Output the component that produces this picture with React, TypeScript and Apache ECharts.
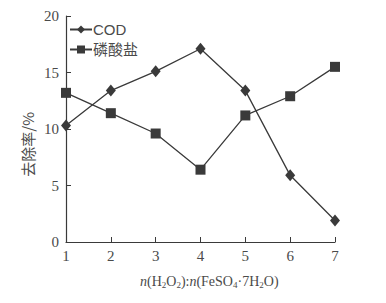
import React, { useEffect, useRef } from "react";
import * as echarts from "echarts";

const ratios = [1, 2, 3, 4, 5, 6, 7];
const codValues = [10.3, 13.4, 15.1, 17.1, 13.4, 5.9, 1.9];
const phosphateValues = [13.2, 11.4, 9.6, 6.4, 11.2, 12.9, 15.5];
const yTicks = [0, 5, 10, 15, 20];

const SERIF = "'Liberation Serif', 'Times New Roman', serif";
const CJK = "'Noto Sans CJK SC', sans-serif";
const INK = "#3a3a3a";
const TXT = "#4a4a4a";

export default function App() {
  const ref = useRef<HTMLDivElement>(null);
  useEffect(() => {
    if (!ref.current) return;
    const chart = echarts.init(ref.current, undefined, { renderer: "svg" });
    chart.setOption({
      animation: false,
      backgroundColor: "#ffffff",
      grid: { left: 66, right: 51, top: 16, bottom: 61, containLabel: false },
      legend: {
        orient: "vertical",
        left: 64,
        top: 17,
        itemWidth: 22,
        itemHeight: 10,
        itemGap: 5,
        textStyle: { fontFamily: `'Liberation Sans', ${CJK}`, fontSize: 15, color: TXT, padding: [0, 0, 0, -4] },
        data: ["COD", "磷酸盐"],
      },
      xAxis: {
        type: "value",
        min: 1,
        max: 7,
        interval: 1,
        splitLine: { show: false },
        axisLine: { lineStyle: { color: INK, width: 1.2 } },
        axisTick: { inside: true, length: 5, lineStyle: { color: INK } },
        axisLabel: { fontFamily: SERIF, fontSize: 15, color: TXT, margin: 6 },
      },
      yAxis: {
        type: "value",
        min: 0,
        max: 20,
        interval: 5,
        splitLine: { show: false },
        axisLine: { show: true, lineStyle: { color: INK, width: 1.2 } },
        axisTick: { show: true, inside: true, length: 5, lineStyle: { color: INK } },
        axisLabel: {
          fontFamily: SERIF,
          fontSize: 15,
          color: TXT,
          margin: 7,
          formatter: (v: number) => (yTicks.includes(v) ? String(v) : ""),
        },
      },
      graphic: [
        {
          type: "text",
          left: 20,
          top: 112,
          rotation: Math.PI / 2,
          style: {
            text: "去除率/%",
            font: `15px ${CJK}`,
            fill: TXT,
          },
        },
        {
          type: "text",
          left: 140,
          top: 274,
          style: {
            text: "{i|n}{r|(H}{s|2}{r|O}{s|2}{r|):}{i|n}{r|(FeSO}{s|4}{r|·7H}{s|2}{r|O)}",
            rich: {
              i: { fontFamily: SERIF, fontStyle: "italic", fontSize: 14, fill: TXT, color: TXT },
              r: { fontFamily: SERIF, fontSize: 14, fill: TXT, color: TXT },
              s: { fontFamily: SERIF, fontSize: 9, fill: TXT, color: TXT, padding: [7, 0, 0, 0] },
            },
          },
        },
      ],
      series: [
        {
          name: "COD",
          type: "line",
          data: ratios.map((x, i) => [x, codValues[i]]),
          symbol: "diamond",
          symbolSize: [10, 12],
          itemStyle: { color: INK },
          lineStyle: { color: INK, width: 1.3 },
        },
        {
          name: "磷酸盐",
          type: "line",
          data: ratios.map((x, i) => [x, phosphateValues[i]]),
          symbol: "rect",
          symbolSize: 10,
          itemStyle: { color: INK },
          lineStyle: { color: INK, width: 1.3 },
        },
      ],
    });
    return () => chart.dispose();
  }, []);
  return <div ref={ref} style={{ width: 386, height: 303, position: "absolute", left: 0, top: 0 }} />;
}
